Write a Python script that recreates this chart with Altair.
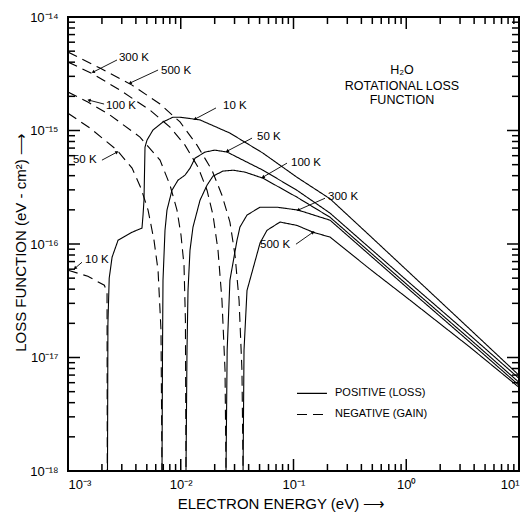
import altair as alt
import pandas as pd
import numpy as np

# ---------------- axes ----------------
X_DOMAIN = [1e-3, 10.0]
Y_DOMAIN = [1e-18, 1e-14]
W, H = 451, 454
FONT = "Liberation Sans"

x_major = [1e-3, 1e-2, 1e-1, 1.0, 10.0]
x_major_labels = ["10⁻³", "10⁻²", "10⁻¹", "10⁰", "10¹"]
y_major = [1e-18, 1e-17, 1e-16, 1e-15, 1e-14]
y_major_labels = ["10⁻¹⁸", "10⁻¹⁷", "10⁻¹⁶", "10⁻¹⁵", "10⁻¹⁴"]
minor_mult = [2, 3, 4, 5, 6, 7, 8, 9]

# ---------------- curves: positive (loss), solid ----------------
pos_10K_E = [2.24e-3, 2.26e-3, 2.32e-3, 2.46e-3, 2.78e-3, 3.70e-3, 4.53e-3, 4.63e-3, 4.72e-3,
             4.82e-3, 5.02e-3, 5.67e-3, 6.96e-3, 8.54e-3, 9.85e-3, 1.48e-2, 2.73e-2, 5.36e-2,
             0.107, 0.211, 0.477, 1.08, 3.68, 10.0]
pos_10K_L = [1e-18, 2.0e-17, 5.0e-17, 7.65e-17, 1.08e-16, 1.27e-16, 1.38e-16, 1.80e-16, 2.43e-16,
             7.14e-16, 8.23e-16, 1.01e-15, 1.19e-15, 1.31e-15, 1.31e-15, 1.24e-15, 9.49e-16, 6.32e-16,
             3.88e-16, 2.50e-16, 1.18e-16, 5.53e-17, 1.77e-17, 6.97e-18]

pos_50K_E = [6.82e-3, 6.89e-3, 6.96e-3, 7.25e-3, 7.55e-3, 8.36e-3, 9.45e-3, 1.09e-2, 1.21e-2,
             1.34e-2, 1.64e-2, 2.01e-2, 2.58e-2, 5.36e-2, 0.107, 0.211, 0.477, 1.08, 3.68, 10.0]
pos_50K_L = [1e-18, 1.16e-17, 4.80e-17, 1.32e-16, 1.99e-16, 2.98e-16, 3.65e-16, 4.04e-16, 4.66e-16,
             5.71e-16, 6.45e-16, 6.72e-16, 6.45e-16, 4.47e-16, 2.98e-16, 1.87e-16, 9.18e-17, 4.51e-17,
             1.57e-17, 6.55e-18]

pos_100K_E = [1.113e-2, 1.136e-2, 1.16e-2, 1.208e-2, 1.284e-2, 1.482e-2, 1.71e-2, 1.93e-2, 2.37e-2,
              2.91e-2, 3.71e-2, 5.36e-2, 0.107, 0.211, 0.477, 1.08, 3.68, 10.0]
pos_100K_L = [1e-18, 1.16e-17, 3.9e-17, 8.82e-17, 1.41e-16, 2.43e-16, 3.30e-16, 3.96e-16, 4.39e-16,
              4.47e-16, 4.30e-16, 3.80e-16, 2.59e-16, 1.72e-16, 8.47e-17, 4.16e-17, 1.45e-17, 6.04e-18]

pos_300K_E = [2.52e-2, 2.58e-2, 2.73e-2, 3.155e-2, 3.35e-2, 3.87e-2, 5.05e-2, 7.14e-2, 0.110, 0.211,
              0.477, 1.08, 3.68, 10.0]
pos_300K_L = [1e-18, 1.16e-17, 4.8e-17, 1.08e-16, 1.41e-16, 1.80e-16, 2.11e-16, 2.11e-16, 1.99e-16,
              1.62e-16, 7.96e-17, 3.91e-17, 1.36e-17, 5.69e-18]

pos_500K_E = [3.57e-2, 3.64e-2, 3.87e-2, 5.05e-2, 5.82e-2, 7.59e-2, 0.107, 0.149, 0.211, 0.477,
              1.08, 3.68, 10.0]
pos_500K_L = [1e-18, 1.16e-17, 3.9e-17, 1.02e-16, 1.32e-16, 1.56e-16, 1.46e-16, 1.27e-16, 1.15e-16,
              6.0e-17, 3.2e-17, 1.23e-17, 5.46e-18]

# ---------------- curves: negative (gain), dashed ----------------
neg_10K_E = [1e-3, 1.5e-3, 2.1e-3, 2.22e-3, 2.23e-3]
neg_10K_L = [5.87e-17, 5.2e-17, 4.33e-17, 3.76e-17, 1e-18]

neg_50K_E = [1e-3, 1.567e-3, 2.72e-3, 3.70e-3, 4.44e-3, 5.13e-3, 5.79e-3, 6.29e-3, 6.68e-3, 6.82e-3]
neg_50K_L = [1.42e-15, 1.05e-15, 6.72e-16, 4.66e-16, 3.10e-16, 1.99e-16, 1.08e-16, 5.87e-17, 1.74e-17, 1e-18]

neg_100K_E = [1e-3, 1.50e-3, 2.36e-3, 4.35e-3, 6.55e-3, 8.03e-3, 9.26e-3, 1.005e-2, 1.069e-2, 1.10e-2, 1.113e-2]
neg_100K_L = [2.18e-15, 1.78e-15, 1.367e-15, 8.75e-16, 5.48e-16, 3.30e-16, 1.99e-16, 1.20e-16, 6.5e-17, 2.13e-17, 1e-18]

neg_300K_E = [1e-3, 1.67e-3, 2.89e-3, 5.34e-3, 8.03e-3, 1.091e-2, 1.422e-2, 1.71e-2, 1.932e-2, 2.14e-2,
              2.32e-2, 2.47e-2, 2.52e-2]
neg_300K_L = [4.01e-15, 3.14e-15, 2.27e-15, 1.51e-15, 1.07e-15, 7.43e-16, 4.76e-16, 2.98e-16, 1.80e-16,
              8.82e-17, 3.2e-17, 7.71e-18, 1e-18]

neg_500K_E = [1e-3, 1.92e-3, 3.70e-3, 6.55e-3, 9.85e-3, 1.394e-2, 1.893e-2, 2.32e-2, 2.73e-2, 3.03e-2,
              3.29e-2, 3.49e-2, 3.57e-2]
neg_500K_L = [4.91e-15, 3.55e-15, 2.51e-15, 1.71e-15, 1.19e-15, 7.43e-16, 4.47e-16, 2.69e-16, 1.56e-16,
              7.96e-17, 3.2e-17, 7.71e-18, 1e-18]

curves = [
    ("pos10", "solid", pos_10K_E, pos_10K_L),
    ("pos50", "solid", pos_50K_E, pos_50K_L),
    ("pos100", "solid", pos_100K_E, pos_100K_L),
    ("pos300", "solid", pos_300K_E, pos_300K_L),
    ("pos500", "solid", pos_500K_E, pos_500K_L),
    ("neg10", "dashed", neg_10K_E, neg_10K_L),
    ("neg50", "dashed", neg_50K_E, neg_50K_L),
    ("neg100", "dashed", neg_100K_E, neg_100K_L),
    ("neg300", "dashed", neg_300K_E, neg_300K_L),
    ("neg500", "dashed", neg_500K_E, neg_500K_L),
]
rows = []
for name, kind, es, ls in curves:
    for i, (e, l) in enumerate(zip(es, ls)):
        rows.append({"curve": name, "kind": kind, "E": e, "L": l, "idx": i})
curve_df = pd.DataFrame(rows)

# ---------------- curve labels with leader arrows ----------------
lab_text = ["300 K", "500 K", "100 K", "50 K", "10 K", "10 K", "50 K", "100 K", "300 K", "500 K"]
lab_E = [2.83e-3, 6.68e-3, 2.17e-3, 1.107e-3, 1.415e-3, 2.37e-2, 4.75e-2, 9.5e-2, 0.2023, 5.05e-2]
lab_L = [4.35e-15, 3.34e-15, 1.64e-15, 5.48e-16, 7.2e-17, 1.64e-15, 8.75e-16, 5.16e-16, 2.59e-16, 9.76e-17]
lead_E = [2.72e-3, 6.29e-3, 2.09e-3, 2.0e-3, 1.331e-3, 2.054e-2, 4.29e-2, 8.76e-2, 0.1903, 0.1052]
lead_L = [4.18e-15, 3.41e-15, 1.71e-15, 5.48e-16, 6.91e-17, 1.58e-15, 8.57e-16, 5.16e-16, 2.53e-16, 9.96e-17]
tip_E = [1.67e-3, 3.55e-3, 1.535e-3, 2.72e-3, 1.154e-3, 1.338e-2, 2.58e-2, 5.36e-2, 0.110, 0.149]
tip_L = [3.27e-15, 2.62e-15, 1.85e-15, 6.45e-16, 6.12e-17, 1.26e-15, 6.58e-16, 3.88e-16, 1.99e-16, 1.27e-16]

labels_df = pd.DataFrame({"E": lab_E, "L": lab_L, "text": lab_text})
px_dec_x = W / 4.0
px_dec_y = H / 4.0
dx = (np.log10(tip_E) - np.log10(lead_E)) * px_dec_x
dy = -(np.log10(tip_L) - np.log10(lead_L)) * px_dec_y
ang = (np.degrees(np.arctan2(dx, -dy)) + 360.0) % 360.0
leaders_df = pd.DataFrame({"E": lead_E, "L": lead_L, "E2": tip_E, "L2": tip_L, "ang": ang})
tips_df = pd.DataFrame({"E": tip_E, "L": tip_L, "ang": ang})

# ---------------- title block & legend ----------------
title_lines = ["H₂O", "ROTATIONAL  LOSS", "FUNCTION"]
title_E = [0.917, 0.917, 0.917]
title_L = [3.41e-15, 2.46e-15, 1.85e-15]
title_df = pd.DataFrame({"E": title_E, "L": title_L, "text": title_lines})

legend_kind = ["solid", "dashed"]
legend_text = ["POSITIVE  (LOSS)", "NEGATIVE  (GAIN)"]
legend_E1 = [0.1074, 0.1074]
legend_E2 = [0.198, 0.198]
legend_L = [4.83e-18, 3.15e-18]
legend_textE = [0.2333, 0.2333]
leg_rows = []
for k, e1, e2, l in zip(legend_kind, legend_E1, legend_E2, legend_L):
    leg_rows.append({"curve": "leg_" + k, "kind": k, "E": e1, "L": l, "idx": 0})
    leg_rows.append({"curve": "leg_" + k, "kind": k, "E": e2, "L": l, "idx": 1})
legend_line_df = pd.DataFrame(leg_rows)
legend_text_df = pd.DataFrame({"E": legend_textE, "L": legend_L, "text": legend_text})


# ---------------- encodings ----------------
def label_expr(vals, labs):
    s = ""
    for v, lab in zip(vals[:-1], labs[:-1]):
        s += f"datum.value < {v * 3.16:g} ? '{lab}' : "
    return s + f"'{labs[-1]}'"


xscale = alt.Scale(type="log", domain=X_DOMAIN, nice=False)
yscale = alt.Scale(type="log", domain=Y_DOMAIN, nice=False)
xaxis = alt.Axis(values=x_major, labelExpr=label_expr(x_major, x_major_labels), ticks=False,
                 domain=False, grid=False, labelPadding=7, labelFontSize=13, labelFont=FONT,
                 labelColor="black", title="ELECTRON ENERGY  (eV) ⟶", titleFont=FONT,
                 titleFontSize=15, titleFontWeight="normal", titleColor="black",
                 titleX=213, titleY=32, titleBaseline="middle", titleAnchor="middle")
yaxis = alt.Axis(values=y_major, labelExpr=label_expr(y_major, y_major_labels), ticks=False,
                 domain=False, grid=False, labelPadding=10, labelFontSize=13, labelFont=FONT,
                 labelColor="black", title="LOSS FUNCTION  (eV - cm²) ⟶", titleFont=FONT,
                 titleFontSize=15, titleFontWeight="normal", titleColor="black",
                 titleX=-48, titleY=225, titleBaseline="middle", titleAnchor="middle")

X = alt.X("E:Q", scale=xscale, axis=xaxis)
Y = alt.Y("L:Q", scale=yscale, axis=yaxis)
dash = alt.StrokeDash("kind:N", scale=alt.Scale(domain=["solid", "dashed"], range=[[1, 0], [10, 6]]),
                      legend=None)

lines = alt.Chart(curve_df).mark_line(color="black", strokeWidth=1.1, clip=True).encode(
    x=X, y=Y, detail="curve:N", strokeDash=dash, order="idx:Q")

# inward ticks on all four sides (lengths in pixels converted to decades)
x_minor = [m * d for d in x_major[:-1] for m in minor_mult]
y_minor = [m * d for d in y_major[:-1] for m in minor_mult]
tick_rows_x = []
tick_rows_y = []
for vals, ln in [(x_major, 12.0), (x_minor, 7.0)]:
    fy = 10 ** (ln / px_dec_y)
    for v in vals:
        tick_rows_x.append({"E": v, "L": Y_DOMAIN[0], "L2": Y_DOMAIN[0] * fy})
        tick_rows_x.append({"E": v, "L": Y_DOMAIN[1], "L2": Y_DOMAIN[1] / fy})
for vals, ln in [(y_major, 12.0), (y_minor, 7.0)]:
    fx = 10 ** (ln / px_dec_x)
    for v in vals:
        tick_rows_y.append({"L": v, "E": X_DOMAIN[0], "E2": X_DOMAIN[0] * fx})
        tick_rows_y.append({"L": v, "E": X_DOMAIN[1], "E2": X_DOMAIN[1] / fx})
xticks = alt.Chart(pd.DataFrame(tick_rows_x)).mark_rule(color="black", strokeWidth=1.5).encode(
    x=X, y=Y, y2="L2:Q")
yticks = alt.Chart(pd.DataFrame(tick_rows_y)).mark_rule(color="black", strokeWidth=1.5).encode(
    x=X, y=Y, x2="E2:Q")

label_marks = alt.Chart(labels_df).mark_text(align="left", baseline="middle", font=FONT,
                                             fontSize=11.5, color="black").encode(x=X, y=Y, text="text:N")
leader_marks = alt.Chart(leaders_df).mark_rule(color="black", strokeWidth=0.9).encode(
    x=X, y=Y, x2="E2:Q", y2="L2:Q")
tip_marks = alt.Chart(tips_df).mark_point(shape="triangle-up", filled=True, size=14, color="black",
                                          opacity=1).encode(x=X, y=Y, angle=alt.Angle("ang:Q", scale=None))
title_marks = alt.Chart(title_df).mark_text(align="center", baseline="middle", font=FONT,
                                            fontSize=12.5, color="black").encode(x=X, y=Y, text="text:N")
legend_lines = alt.Chart(legend_line_df).mark_line(color="black", strokeWidth=1.1).encode(
    x=X, y=Y, detail="curve:N", strokeDash=dash, order="idx:Q")
legend_texts = alt.Chart(legend_text_df).mark_text(align="left", baseline="middle", font=FONT,
                                                   fontSize=11, color="black").encode(x=X, y=Y, text="text:N")

chart = alt.layer(lines, xticks, yticks, leader_marks, tip_marks, label_marks, title_marks,
                  legend_lines, legend_texts).properties(
    width=W, height=H,
    autosize=alt.AutoSizeParams(type="none"),
    padding={"left": 68, "top": 17, "right": 12, "bottom": 45},
    background="white",
).configure_view(stroke="black", strokeWidth=2)

chart.save("out.html", embed_options={"renderer": "svg", "actions": False})
